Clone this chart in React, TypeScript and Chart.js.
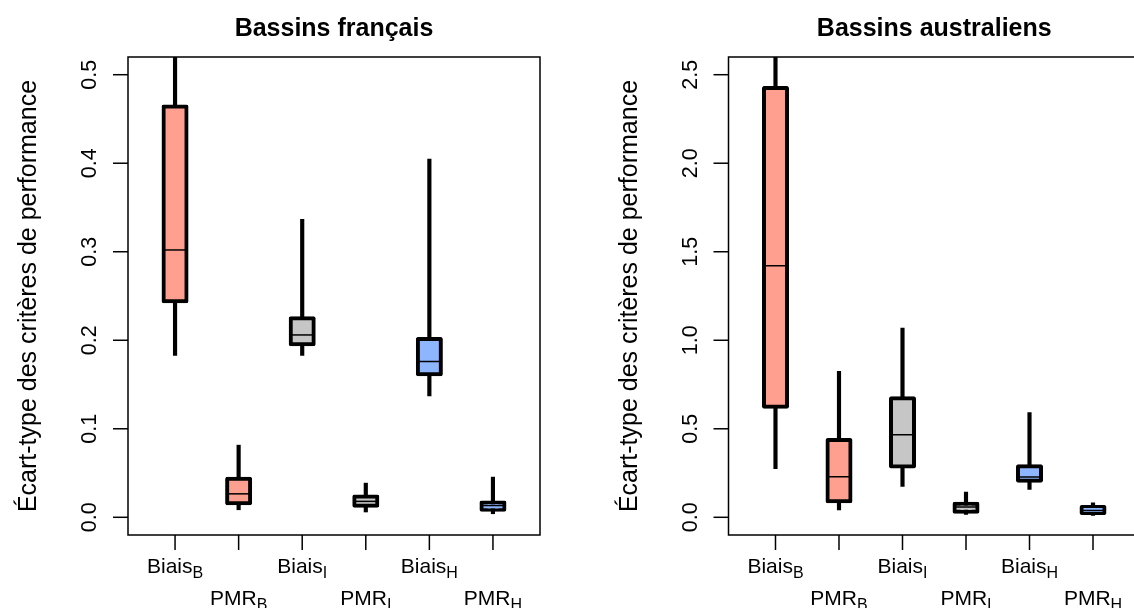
import { useEffect, useRef } from "react";
import { Chart, registerables } from "chart.js";
Chart.register(...registerables);

const categoryMain = ["Biais", "PMR", "Biais", "PMR", "Biais", "PMR"];
const categorySub = ["B", "B", "I", "I", "H", "H"];
const boxColors = ["#FF9F8F", "#FF9F8F", "#C6C6C6", "#C6C6C6", "#8EB6FF", "#8EB6FF"];

// Bassins français
const frTitle = "Bassins français";
const frWhiskerLow = [0.183, 0.0085, 0.183, 0.006, 0.137, 0.004];
const frQ1 = [0.244, 0.016, 0.1955, 0.013, 0.1616, 0.0085];
const frMedian = [0.302, 0.0265, 0.206, 0.018, 0.176, 0.0133];
const frQ3 = [0.464, 0.0435, 0.2248, 0.0235, 0.2015, 0.0167];
const frWhiskerHigh = [0.58, 0.0815, 0.3366, 0.0386, 0.4046, 0.0454];
const frYTicks = [0, 0.1, 0.2, 0.3, 0.4, 0.5];

// Bassins australiens
const auTitle = "Bassins australiens";
const auWhiskerLow = [0.274, 0.042, 0.174, 0.016, 0.157, 0.01];
const auQ1 = [0.625, 0.0912, 0.287, 0.031, 0.206, 0.024];
const auMedian = [1.421, 0.2286, 0.4656, 0.0575, 0.227, 0.038];
const auQ3 = [2.425, 0.436, 0.673, 0.076, 0.289, 0.0575];
const auWhiskerHigh = [2.9, 0.825, 1.069, 0.142, 0.591, 0.082];
const auYTicks = [0, 0.5, 1.0, 1.5, 2.0, 2.5];

const yLabel = "Écart-type des critères de performance";
const FONT = "'Liberation Sans', Arial, Helvetica, sans-serif";

type PanelProps = {
  title: string;
  low: number[];
  q1: number[];
  med: number[];
  q3: number[];
  high: number[];
  yTicks: number[];
  yMin: number;
  yMax: number;
  left: number;
  width: number;
  padLeft: number;
  padRight: number;
};

const rFrame = {
  id: "rFrame",
  afterDraw(chart: any, _args: any, opts: any) {
    const ctx = chart.ctx;
    const a = chart.chartArea;
    const xs = chart.scales.x;
    const ys = chart.scales.y;
    ctx.save();
    ctx.strokeStyle = "#000";
    ctx.fillStyle = "#000";
    ctx.lineWidth = 1.5;
    ctx.strokeRect(a.left, a.top, a.right - a.left, a.bottom - a.top);
    // y ticks
    ctx.font = `21.5px ${FONT}`;
    ctx.textAlign = "center";
    ctx.textBaseline = "alphabetic";
    for (const v of opts.yTicks) {
      const y = ys.getPixelForValue(v);
      ctx.beginPath();
      ctx.moveTo(a.left - 15, y);
      ctx.lineTo(a.left, y);
      ctx.stroke();
      ctx.save();
      ctx.translate(a.left - 32, y);
      ctx.rotate(-Math.PI / 2);
      ctx.fillText(v.toFixed(1), 0, 0);
      ctx.restore();
    }
    // x ticks + labels with subscripts
    for (let i = 0; i < categoryMain.length; i++) {
      const x = xs.getPixelForValue(i + 1);
      ctx.beginPath();
      ctx.moveTo(x, a.bottom);
      ctx.lineTo(x, a.bottom + 15);
      ctx.stroke();
      const main = categoryMain[i];
      const sub = categorySub[i];
      ctx.font = `21px ${FONT}`;
      const wm = ctx.measureText(main).width;
      ctx.font = `16px ${FONT}`;
      const ws = ctx.measureText(sub).width;
      const start = x - (wm + ws) / 2;
      const base = i % 2 === 0 ? a.bottom + 38 : a.bottom + 70;
      ctx.textAlign = "left";
      ctx.font = `21px ${FONT}`;
      ctx.fillText(main, start, base);
      ctx.font = `16px ${FONT}`;
      ctx.fillText(sub, start + wm, base + 5);
    }
    // title
    ctx.textAlign = "center";
    ctx.font = `bold 25px ${FONT}`;
    ctx.fillText(opts.title, (a.left + a.right) / 2, 36);
    // y label
    ctx.font = `25px ${FONT}`;
    ctx.save();
    ctx.translate(a.left - 92, (a.top + a.bottom) / 2);
    ctx.rotate(-Math.PI / 2);
    ctx.fillText(yLabel, 0, 0);
    ctx.restore();
    ctx.restore();
  },
};

function Panel(p: PanelProps) {
  const ref = useRef<HTMLCanvasElement>(null);
  useEffect(() => {
    if (!ref.current) return;
    const pts = (arrA: number[], arrB: number[]) =>
      arrA.map((v, i) => ({ x: i + 1, y: [v, arrB[i]] }));
    const chart = new Chart(ref.current, {
      type: "bar",
      data: {
        datasets: [
          {
            type: "scatter",
            order: 0,
            data: p.med.map((v, i) => ({ x: i + 1, y: v })),
            pointStyle: "line",
            pointRadius: 11,
            pointHoverRadius: 11,
            borderColor: "#000",
            borderWidth: 1.5,
            showLine: false,
          } as any,
          {
            type: "bar",
            order: 1,
            data: pts(p.q1, p.q3) as any,
            backgroundColor: boxColors,
            borderColor: "#000",
            borderWidth: 4,
            borderSkipped: false,
            borderRadius: 2,
            barThickness: 23,
            inflateAmount: 2,
            grouped: false,
          } as any,
          {
            type: "bar",
            order: 2,
            data: pts(p.low, p.high) as any,
            backgroundColor: "#000",
            borderWidth: 0,
            barThickness: 3.5,
            grouped: false,
          } as any,
        ],
      },
      options: {
        animation: false,
        responsive: false,
        devicePixelRatio: 1,
        events: [],
        layout: { padding: { left: p.padLeft, right: p.padRight, top: 57, bottom: 73 } },
        plugins: {
          legend: { display: false },
          tooltip: { enabled: false },
          title: { display: false },
          rFrame: { yTicks: p.yTicks, title: p.title },
        } as any,
        scales: {
          x: { type: "linear", min: 0.26, max: 6.74, display: false, offset: false },
          y: { type: "linear", min: p.yMin, max: p.yMax, display: false },
        },
      },
      plugins: [rFrame],
    });
    return () => chart.destroy();
  }, []);
  return (
    <canvas
      ref={ref}
      width={p.width}
      height={608}
      style={{ position: "absolute", left: p.left, top: 0, width: p.width, height: 608 }}
    />
  );
}

export default function App() {
  return (
    <div
      style={{
        position: "fixed",
        left: 0,
        top: 0,
        width: 1134,
        height: 608,
        overflow: "hidden",
        background: "#fff",
      }}
    >
      <Panel
        title={frTitle}
        low={frWhiskerLow}
        q1={frQ1}
        med={frMedian}
        q3={frQ3}
        high={frWhiskerHigh}
        yTicks={frYTicks}
        yMin={-0.02}
        yMax={0.52}
        left={0}
        width={567}
        padLeft={128}
        padRight={27}
      />
      <Panel
        title={auTitle}
        low={auWhiskerLow}
        q1={auQ1}
        med={auMedian}
        q3={auQ3}
        high={auWhiskerHigh}
        yTicks={auYTicks}
        yMin={-0.1}
        yMax={2.6}
        left={567}
        width={620}
        padLeft={161.5}
        padRight={47}
      />
    </div>
  );
}
